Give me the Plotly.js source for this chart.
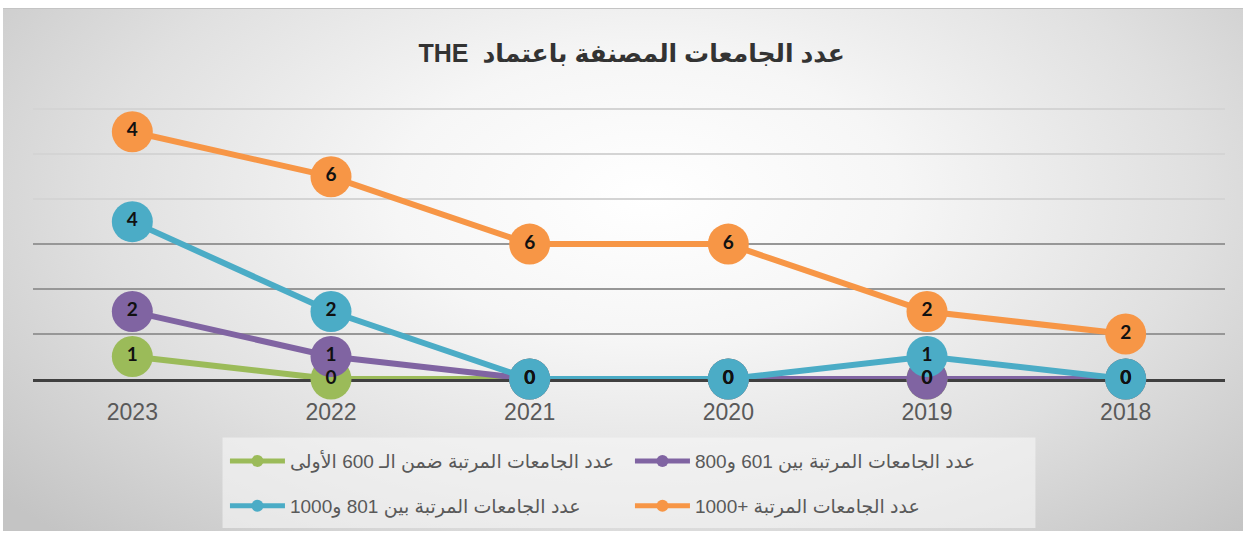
<!DOCTYPE html>
<html>
<head>
<meta charset="utf-8">
<script src="https://cdn.plot.ly/plotly-3.0.1.min.js"></script>
<style>
  body { margin: 0; background: #ffffff; }
  #chart {
    position: absolute;
    left: 3px;
    top: 8px;
    width: 1240px;
    height: 522px;
    border-top: 1px solid #c4c4c4;
    background: radial-gradient(ellipse 68% 90% at 52% 36%, #ffffff 0%, #f6f6f6 30%, #e0e0e0 65%, #c4c4c4 100%);
  }
</style>
</head>
<body>
<div id="chart"></div>
<script>
var years = ['2023', '2022', '2021', '2020', '2019', '2018'];
var top600 = [1, 0, 0, 0, 0, 0];
var r601to800 = [2, 1, 0, 0, 0, 0];
var r801to1000 = [4, 2, 0, 0, 1, 0];
var r1000plus = [4, 6, 6, 6, 2, 2];

var names = [
	'عدد الجامعات المرتبة ضمن الـ 600 الأولى',
	'عدد الجامعات المرتبة بين 601 و800',
	'عدد الجامعات المرتبة بين 801 و1000',
	'عدد الجامعات المرتبة +1000'
];
var colors = ['#9BBB59', '#8064A2', '#4BACC6', '#F79646'];
var series = [top600, r601to800, r801to1000, r1000plus];
var legendOf = ['legend', 'legend', 'legend2', 'legend2'];

var traces = [];

// lines + markers, stacked like the excel chart
series.forEach(function (vals, i) {
	traces.push({
		type: 'scatter',
		x: years,
		y: vals,
		name: names[i],
		stackgroup: 'lines',
		fill: 'none',
		mode: 'lines+markers',
		line: {color: colors[i], width: 6},
		marker: {color: colors[i], size: 41},
		legend: legendOf[i],
		cliponaxis: false,
		hoverinfo: 'skip'
	});
});

// data labels on top of everything
series.forEach(function (vals, i) {
	traces.push({
		type: 'scatter',
		x: years,
		y: vals,
		stackgroup: 'labels',
		fill: 'none',
		mode: 'text',
		text: vals.map(String),
		textposition: 'middle center',
		textfont: {family: 'Lato, Liberation Sans, sans-serif', size: 19, color: '#111111', weight: 'bold'},
		showlegend: false,
		cliponaxis: false,
		hoverinfo: 'skip'
	});
});

// empty trace so the second (lighter) grid axis exists
traces.push({type: 'scatter', x: [], y: [], yaxis: 'y2', showlegend: false, hoverinfo: 'skip'});

var legendFont = {family: 'Liberation Sans, DejaVu Sans, sans-serif', size: 19, color: '#595959'};

var layout = {
	width: 1240,
	height: 522,
	paper_bgcolor: 'rgba(0,0,0,0)',
	plot_bgcolor: 'rgba(0,0,0,0)',
	margin: {l: 30, r: 18, t: 98, b: 152},
	showlegend: true,
	title: {
		text: 'THE\u00a0\u00a0عدد الجامعات المصنفة باعتماد',
		font: {family: 'Liberation Sans, DejaVu Sans, sans-serif', size: 25, color: '#333333', weight: 'bold'},
		xref: 'container', yref: 'container',
		x: 0.507, y: 0.916, xanchor: 'center', yanchor: 'middle'
	},
	xaxis: {
		type: 'category',
		range: [-0.5, 5.5],
		showgrid: false,
		zeroline: false,
		showline: true,
		linecolor: '#404040',
		linewidth: 3,
		ticks: '',
		ticklabelstandoff: 10,
		tickfont: {family: 'Liberation Sans, Arial, sans-serif', size: 23, color: '#595959'},
		layer: 'below traces',
		fixedrange: true
	},
	yaxis: {
		range: [0, 12.1],
		tickvals: [2, 4, 6],
		showticklabels: false,
		showgrid: true,
		gridcolor: '#979797',
		gridwidth: 2,
		zeroline: false,
		showline: false,
		fixedrange: true
	},
	yaxis2: {
		overlaying: 'y',
		range: [0, 12.1],
		tickvals: [8, 10, 12],
		showticklabels: false,
		showgrid: true,
		gridcolor: '#d4d4d4',
		gridwidth: 2,
		zeroline: false,
		showline: false,
		fixedrange: true
	},
	legend: {
		orientation: 'h',
		xref: 'container', yref: 'container',
		x: 0.179, xanchor: 'left',
		y: 0.134, yanchor: 'middle',
		bgcolor: 'rgba(0,0,0,0)',
		font: legendFont,
		itemsizing: 'constant',
		itemwidth: 55,
		entrywidth: 335,
		entrywidthmode: 'pixels'
	},
	legend2: {
		orientation: 'h',
		xref: 'container', yref: 'container',
		x: 0.179, xanchor: 'left',
		y: 0.048, yanchor: 'middle',
		bgcolor: 'rgba(0,0,0,0)',
		font: legendFont,
		itemsizing: 'constant',
		itemwidth: 55,
		entrywidth: 335,
		entrywidthmode: 'pixels'
	},
	shapes: [{
		type: 'rect',
		xref: 'paper', yref: 'paper',
		x0: 0.159, x1: 0.841, y0: -0.548, y1: -0.215,
		fillcolor: 'rgba(246,246,246,0.6)',
		line: {width: 0},
		layer: 'below'
	}]
};

Plotly.newPlot('chart', traces, layout, {displayModeBar: false, staticPlot: true});
</script>
</body>
</html>
